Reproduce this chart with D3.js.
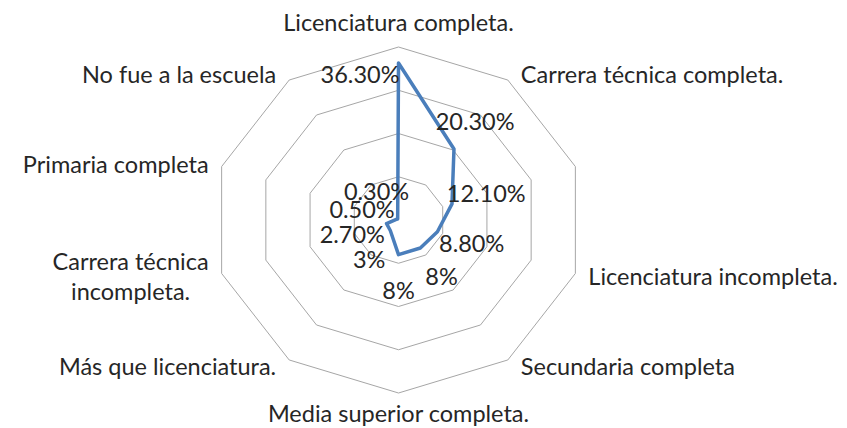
<!DOCTYPE html>
<html>
<head>
<meta charset="utf-8">
<script src="https://cdn.jsdelivr.net/npm/d3@7"></script>
<style>
  body { margin: 0; background: #fff; }
  svg { display: block; font-family: Lato, "Open Sans", sans-serif; }
  .grid { fill: none; stroke: #a6a6a6; stroke-width: 1; }
  .series { fill: none; stroke: #4a7ebb; stroke-width: 3.5; stroke-linejoin: round; }
  .cat, .val { fill: #262626; font-size: 23.5px; }
</style>
</head>
<body>
<script>
// axes clockwise from the top; the third axis has no visible label in the original
const categories = ["Licenciatura completa.", "Carrera técnica completa.", "", "Licenciatura incompleta.",
  "Secundaria completa", "Media superior completa.", "Más que licenciatura.",
  "Carrera técnica incompleta.", "Primaria completa", "No fue a la escuela"];
const values = [36.3, 20.3, 12.1, 8.8, 8, 8, 3, 2.7, 0.5, 0.3];
const valueLabels = ["36.30%", "20.30%", "12.10%", "8.80%", "8%", "8%", "3%", "2.70%", "0.50%", "0.30%"];
const ringTicks = [10, 20, 30, 40];

const w = 847, h = 428;
const cx = 398.5, cy = 220;
const stretch = 1.075; // the chart is a bit wider than tall

const svg = d3.select("body").append("svg").attr("width", w).attr("height", h);

const r = d3.scaleLinear().domain([0, 40]).range([0, 173]);
const angle = d3.scaleLinear().domain([0, categories.length]).range([0, 2 * Math.PI]);

function pt(i, v) {
  const a = angle(i);
  return [cx + r(v) * Math.sin(a) * stretch, cy - r(v) * Math.cos(a)];
}

const closed = d3.line().curve(d3.curveLinearClosed);

// rings
svg.selectAll("path.grid")
  .data(ringTicks)
  .enter()
  .append("path")
  .attr("class", "grid")
  .attr("d", t => closed(categories.map((c, i) => pt(i, t))));

// series
svg.append("path")
  .attr("class", "series")
  .attr("d", closed(values.map((v, i) => pt(i, v))));

// value labels
svg.selectAll("text.val")
  .data(values)
  .enter()
  .append("text")
  .attr("class", "val")
  .attr("dominant-baseline", "central")
  .each(function (v, i) {
    const p = pt(i, v), a = angle(i);
    const t = d3.select(this).text(valueLabels[i]);
    if (i === 0) {
      t.attr("x", p[0] + 1).attr("y", p[1] + 11).attr("text-anchor", "end");
    } else {
      t.attr("x", p[0] + 36 * Math.sin(a)).attr("y", p[1] - 35 * Math.cos(a)).attr("text-anchor", "middle");
    }
  });

// category labels
const maxV = ringTicks[ringTicks.length - 1];
svg.selectAll("text.cat")
  .data(categories)
  .enter()
  .append("text")
  .attr("class", "cat")
  .attr("dominant-baseline", "central")
  .each(function (c, i) {
    if (!c) return;
    const p = pt(i, maxV), a = angle(i);
    const s = Math.sin(a), co = Math.cos(a);
    const t = d3.select(this);
    if (Math.abs(s) < 0.1) {
      t.attr("x", p[0]).attr("y", p[1] - (co > 0 ? 25 : -20)).attr("text-anchor", "middle").text(c);
      return;
    }
    const x = p[0] + (s > 0 ? 13 : -13);
    const y = p[1] - co * 8;
    t.attr("x", x).attr("y", y).attr("text-anchor", s > 0 ? "start" : "end").text(c);
    const room = s > 0 ? w - x : x - 5;
    if (this.getComputedTextLength() > room) {
      // wrap in two centred lines
      const words = c.split(" ");
      const l1 = words.slice(0, -1).join(" "), l2 = words[words.length - 1];
      t.text(null).attr("text-anchor", "middle");
      t.append("tspan").text(l1);
      const width = this.getComputedTextLength();
      const mid = s > 0 ? x + width / 2 : x - width / 2;
      t.select("tspan").attr("x", mid).attr("y", y - 15);
      t.append("tspan").attr("x", mid).attr("y", y + 15).text(l2);
    }
  });
</script>
</body>
</html>
